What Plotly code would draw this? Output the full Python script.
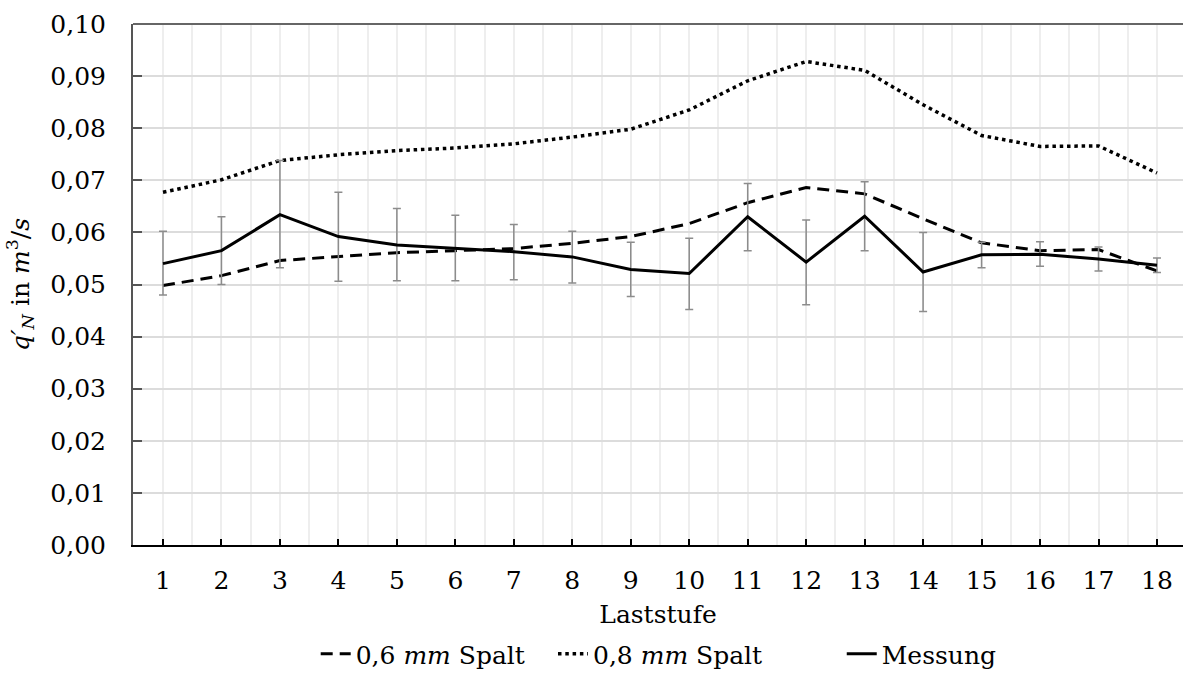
import plotly.graph_objects as go

# Laststufen 1..18
laststufe = list(range(1, 19))

# Spaltmodell 0,6 mm
spalt_06 = [0.0498, 0.0517, 0.0546, 0.0554, 0.0561, 0.0565, 0.0569, 0.0579, 0.0592,
            0.0617, 0.0657, 0.0686, 0.0674, 0.0626, 0.0580, 0.0565, 0.0567, 0.0526]

# Spaltmodell 0,8 mm
spalt_08 = [0.0677, 0.0701, 0.0738, 0.0749, 0.0757, 0.0762, 0.0770, 0.0783, 0.0798,
            0.0835, 0.0891, 0.0928, 0.0911, 0.0845, 0.0786, 0.0765, 0.0766, 0.0714]

# Messung mit oberer / unterer Streugrenze
messung = [0.0540, 0.0565, 0.0634, 0.0592, 0.0576, 0.0570, 0.0563, 0.0553, 0.0529,
           0.0521, 0.0630, 0.0543, 0.0631, 0.0524, 0.0557, 0.0558, 0.0549, 0.0537]
messung_max = [0.0602, 0.0630, 0.0738, 0.0677, 0.0646, 0.0633, 0.0615, 0.0602, 0.0581,
               0.0589, 0.0694, 0.0624, 0.0697, 0.0600, 0.0581, 0.0582, 0.0572, 0.0551]
messung_min = [0.0480, 0.0500, 0.0532, 0.0506, 0.0507, 0.0507, 0.0509, 0.0503, 0.0477,
               0.0452, 0.0565, 0.0461, 0.0565, 0.0448, 0.0532, 0.0535, 0.0526, 0.0523]

y_ticks = [i / 100 for i in range(0, 11)]

FONT = "DejaVu Serif"
FS = 25

err_plus = [hi - m for hi, m in zip(messung_max, messung)]
err_minus = [m - lo for m, lo in zip(messung, messung_min)]

fig = go.Figure()

fig.add_trace(go.Scatter(
    x=laststufe, y=spalt_06, mode="lines", name="0,6 <i>mm</i> Spalt",
    line=dict(color="black", width=3, dash="12px,7px"),
    legend="legend", showlegend=True,
))
fig.add_trace(go.Scatter(
    x=laststufe, y=spalt_08, mode="lines", name="0,8 <i>mm</i> Spalt",
    line=dict(color="black", width=3.5, dash="3.5px,3.8px"),
    legend="legend2", showlegend=True,
))
fig.add_trace(go.Scatter(
    x=laststufe, y=messung, mode="lines", name="Messung",
    line=dict(color="black", width=3),
    error_y=dict(type="data", symmetric=False, array=err_plus, arrayminus=err_minus,
                 color="#8c8c8c", thickness=1.5, width=4),
    legend="legend3", showlegend=True,
))

legend_common = dict(
    orientation="h", yanchor="middle", y=-0.21, xanchor="left",
    font=dict(family=FONT, size=FS, color="black"),
    bgcolor="rgba(0,0,0,0)", borderwidth=0, visible=True,
)

fig.update_layout(
    width=1183, height=677,
    margin=dict(l=133, r=0, t=24, b=131),
    paper_bgcolor="white", plot_bgcolor="white",
    showlegend=True,
    font=dict(family=FONT, size=FS, color="black"),
    legend=dict(x=0.174, **legend_common),
    legend2=dict(x=0.400, **legend_common),
    legend3=dict(x=0.675, **legend_common),
    xaxis=dict(
        range=[0.487, 18.445],
        tickmode="array", tickvals=laststufe, ticktext=[str(v) for v in laststufe],
        ticks="inside", ticklen=6, tickwidth=1.5, tickcolor="black",
        showline=True, linecolor="black", linewidth=1.5,
        showgrid=True, gridcolor="#eeeeee", gridwidth=1.5,
        minor=dict(dtick=0.5, tick0=0.5, showgrid=True, gridcolor="#eeeeee", gridwidth=1.5, ticks=""),
        zeroline=False,
        ticklabelstandoff=12,
        title=dict(text="Laststufe", font=dict(family=FONT, size=FS), standoff=12),
        tickfont=dict(family=FONT, size=FS),
    ),
    yaxis=dict(
        range=[0, 0.1],
        tickmode="array", tickvals=y_ticks, ticktext=[f"{v:.2f}".replace(".", ",") for v in y_ticks],
        ticks="inside", ticklen=9, tickwidth=1.5, tickcolor="#555555",
        showline=True, linecolor="#555555", linewidth=2,
        showgrid=True, gridcolor="#dcdcdc", gridwidth=1.5,
        zeroline=False,
        ticklabelstandoff=20,
        title=dict(text="<i>q′</i><sub><i>N</i></sub> in <i>m</i><sup>3</sup>/<i>s</i>",
                   font=dict(family=FONT, size=FS), standoff=14),
        tickfont=dict(family=FONT, size=FS),
    ),
    shapes=[dict(type="line", xref="paper", yref="paper", x0=0, x1=1, y0=1, y1=1,
                 line=dict(color="#666666", width=2), layer="above")],
)

fig.write_html("out.html")
